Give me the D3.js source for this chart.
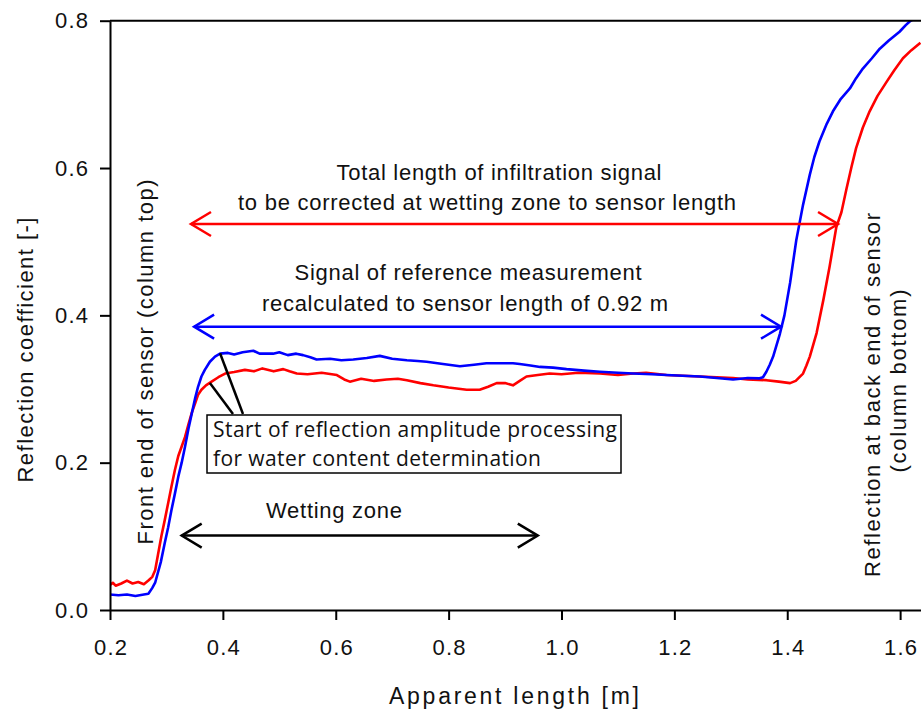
<!DOCTYPE html>
<html lang="en">
<head>
<meta charset="utf-8" />
<title>Reflection coefficient vs apparent length</title>
<style>
  body { margin: 0; background: #fff; }
  text { font-family: "Liberation Sans", Arial, sans-serif; fill: #111; }
  .box text { font-family: "Open Sans", "Noto Sans", sans-serif; }
</style>
</head>
<body>
<script src="https://cdn.jsdelivr.net/npm/d3@7"></script>
<div id="chart"></div>
<script>
// reference measurement (blue)
const blueLen = [0.200,0.215,0.230,0.245,0.260,0.268,0.275,0.280,0.290,0.297,0.303,0.309,0.315,0.321,0.327,0.333,0.339,0.345,0.351,0.356,0.362,0.368,0.377,0.386,0.395,0.409,0.420,0.435,0.454,0.465,0.489,0.500,0.515,0.530,0.542,0.555,0.566,0.590,0.610,0.631,0.655,0.678,0.700,0.726,0.745,0.761,0.790,0.820,0.845,0.867,0.891,0.914,0.926,0.945,0.962,0.985,1.009,1.040,1.068,1.100,1.127,1.160,1.186,1.215,1.245,1.275,1.304,1.330,1.351,1.357,1.363,1.369,1.375,1.387,1.395,1.405,1.416,1.428,1.440,1.448,1.457,1.470,1.481,1.495,1.511,1.522,1.534,1.550,1.564,1.580,1.599,1.610,1.617,1.630,1.640];
const blueRefl = [0.021,0.020,0.021,0.019,0.021,0.022,0.030,0.037,0.065,0.091,0.112,0.136,0.158,0.181,0.200,0.222,0.246,0.267,0.288,0.303,0.317,0.326,0.337,0.344,0.348,0.349,0.347,0.350,0.352,0.348,0.348,0.350,0.346,0.348,0.346,0.343,0.340,0.341,0.339,0.340,0.342,0.345,0.341,0.339,0.338,0.337,0.334,0.331,0.333,0.335,0.335,0.335,0.334,0.332,0.330,0.329,0.327,0.325,0.3235,0.322,0.321,0.320,0.319,0.318,0.317,0.315,0.313,0.315,0.3145,0.316,0.3235,0.333,0.344,0.375,0.400,0.444,0.502,0.550,0.591,0.615,0.636,0.660,0.677,0.694,0.708,0.722,0.735,0.749,0.762,0.773,0.785,0.794,0.799,0.805,0.808];

// infiltration measurement (red)
const redLen = [0.200,0.205,0.210,0.220,0.230,0.240,0.250,0.260,0.268,0.275,0.280,0.285,0.291,0.297,0.303,0.309,0.315,0.321,0.327,0.333,0.339,0.345,0.351,0.356,0.362,0.370,0.380,0.392,0.404,0.420,0.439,0.455,0.470,0.490,0.507,0.518,0.531,0.550,0.575,0.602,0.615,0.625,0.645,0.668,0.690,0.710,0.726,0.750,0.773,0.800,0.832,0.855,0.870,0.885,0.900,0.914,0.926,0.938,0.958,0.979,1.000,1.030,1.068,1.100,1.127,1.150,1.186,1.215,1.245,1.275,1.304,1.330,1.363,1.385,1.405,1.415,1.428,1.434,1.440,1.452,1.464,1.475,1.487,1.496,1.505,1.514,1.522,1.534,1.546,1.560,1.576,1.590,1.605,1.620,1.636];
const redRefl = [0.034,0.037,0.033,0.036,0.040,0.036,0.038,0.035,0.040,0.045,0.054,0.075,0.100,0.122,0.145,0.168,0.190,0.209,0.222,0.235,0.252,0.268,0.281,0.292,0.299,0.305,0.310,0.316,0.321,0.323,0.326,0.324,0.328,0.324,0.327,0.324,0.321,0.320,0.322,0.319,0.313,0.310,0.314,0.311,0.313,0.314,0.312,0.308,0.305,0.302,0.299,0.299,0.303,0.308,0.308,0.305,0.311,0.317,0.319,0.321,0.320,0.322,0.321,0.319,0.321,0.322,0.319,0.318,0.317,0.316,0.315,0.313,0.312,0.310,0.308,0.311,0.321,0.332,0.344,0.376,0.421,0.466,0.520,0.540,0.572,0.602,0.627,0.655,0.677,0.698,0.717,0.733,0.749,0.760,0.770];

const xTicks = [0.2, 0.4, 0.6, 0.8, 1.0, 1.2, 1.4, 1.6];
const yTicks = [0.0, 0.2, 0.4, 0.6, 0.8];

const W = 921, H = 713;
const plotL = 110, plotT = 20.7, plotB = 610, plotR = 921;

const svg = d3.select("#chart").append("svg")
  .attr("width", W).attr("height", H);

const x = d3.scaleLinear().domain([0.2, 1.637]).range([plotL, plotR]);
const y = d3.scaleLinear().domain([0, 0.8]).range([plotB, plotT]);

svg.append("clipPath").attr("id", "plot-clip")
  .append("rect").attr("x", plotL).attr("y", plotT)
  .attr("width", plotR - plotL).attr("height", plotB - plotT);

// curves
const line = d3.line().x(d => x(d[0])).y(d => y(d[1]));
const series = [
  { color: "#ff0000", pts: d3.zip(redLen, redRefl) },
  { color: "#0000ff", pts: d3.zip(blueLen, blueRefl) }
];
svg.append("g").attr("clip-path", "url(#plot-clip)")
  .selectAll("path").data(series).join("path")
  .attr("fill", "none")
  .attr("stroke", d => d.color)
  .attr("stroke-width", 2.6)
  .attr("stroke-linejoin", "round")
  .attr("d", d => line(d.pts));

// axes
const yAxis = svg.append("g")
  .attr("transform", `translate(${plotL},0)`)
  .call(d3.axisLeft(y).tickValues(yTicks).tickFormat(d3.format(".1f"))
    .tickSize(10).tickSizeOuter(0).tickPadding(12));
const xAxis = svg.append("g")
  .attr("transform", `translate(0,${plotB})`)
  .call(d3.axisBottom(x).tickValues(xTicks).tickFormat(d3.format(".1f"))
    .tickSize(10).tickSizeOuter(0).tickPadding(19));
[xAxis, yAxis].forEach(a => {
  a.selectAll("path, line").attr("stroke", "#000").attr("stroke-width", 2);
  a.selectAll("text").attr("font-size", 22)
    .attr("font-family", "'Liberation Sans', Arial, sans-serif").attr("fill", "#111")
    .attr("textLength", 33).attr("lengthAdjust", "spacing");
});
// top frame line
svg.append("line").attr("x1", plotL).attr("x2", plotR)
  .attr("y1", plotT).attr("y2", plotT)
  .attr("stroke", "#000").attr("stroke-width", 2);

// text helper: size from cap height, width from the reference
function txt(parent, str, size, len, anchor) {
  return parent.append("text")
    .attr("font-size", size)
    .attr("text-anchor", anchor || "middle")
    .attr("textLength", len).attr("lengthAdjust", "spacing")
    .text(str);
}

// axis titles
txt(svg, "Apparent length [m]", 23, 250).attr("x", 514).attr("y", 704);
txt(svg, "Reflection coefficient [-]", 22, 265)
  .attr("transform", "translate(33,350) rotate(-90)");

// double-headed arrows
function arrow(x0, x1, yv, color) {
  const g = svg.append("g").attr("stroke", color).attr("stroke-width", 2.5)
    .attr("fill", "none");
  const px0 = x(x0), px1 = x(x1), py = y(yv);
  g.append("line").attr("x1", px0).attr("x2", px1).attr("y1", py).attr("y2", py);
  g.append("path").attr("d", `M${px0 + 20},${py - 12}L${px0},${py}L${px0 + 20},${py + 12}`);
  g.append("path").attr("d", `M${px1 - 20},${py - 12}L${px1},${py}L${px1 - 20},${py + 12}`);
}
arrow(0.3435, 1.490, 0.524, "#ff0000");
arrow(0.349, 1.389, 0.3846, "#0000ff");
arrow(0.327, 0.958, 0.101, "#000");

txt(svg, "Total length of infiltration signal", 22, 325).attr("x", 499).attr("y", 180);
txt(svg, "to be corrected at wetting zone to sensor length", 22, 498).attr("x", 487).attr("y", 210);
txt(svg, "Signal of reference measurement", 22, 347).attr("x", 468).attr("y", 280);
txt(svg, "recalculated to sensor length of 0.92 m", 22, 406).attr("x", 465).attr("y", 311);
txt(svg, "Wetting zone", 22, 136).attr("x", 334).attr("y", 518);

// vertical notes
txt(svg, "Front end of sensor (column top)", 22, 365)
  .attr("transform", "translate(153,362) rotate(-90)");
txt(svg, "Reflection at back end of sensor", 22, 364)
  .attr("transform", "translate(880,395) rotate(-90)");
txt(svg, "(column bottom)", 22, 183)
  .attr("transform", "translate(906,381) rotate(-90)");

// boxed note with leader lines
const leaders = [
  { from: [243, 414], to: [x(0.395), y(0.3485)] },
  { from: [233, 414], to: [x(0.377), y(0.308)] }
];
svg.append("g").selectAll("line").data(leaders).join("line")
  .attr("x1", d => d.from[0]).attr("y1", d => d.from[1])
  .attr("x2", d => d.to[0]).attr("y2", d => d.to[1])
  .attr("stroke", "#000").attr("stroke-width", 2.5);

const box = svg.append("g").attr("class", "box");
box.append("rect").attr("x", 207).attr("y", 415)
  .attr("width", 414).attr("height", 58)
  .attr("fill", "#fff").attr("stroke", "#000").attr("stroke-width", 1.5);
txt(box, "Start of reflection amplitude processing", 21, 404, "start")
  .attr("x", 213).attr("y", 437);
txt(box, "for water content determination", 21, 328, "start")
  .attr("x", 213).attr("y", 466);
</script>
</body>
</html>
